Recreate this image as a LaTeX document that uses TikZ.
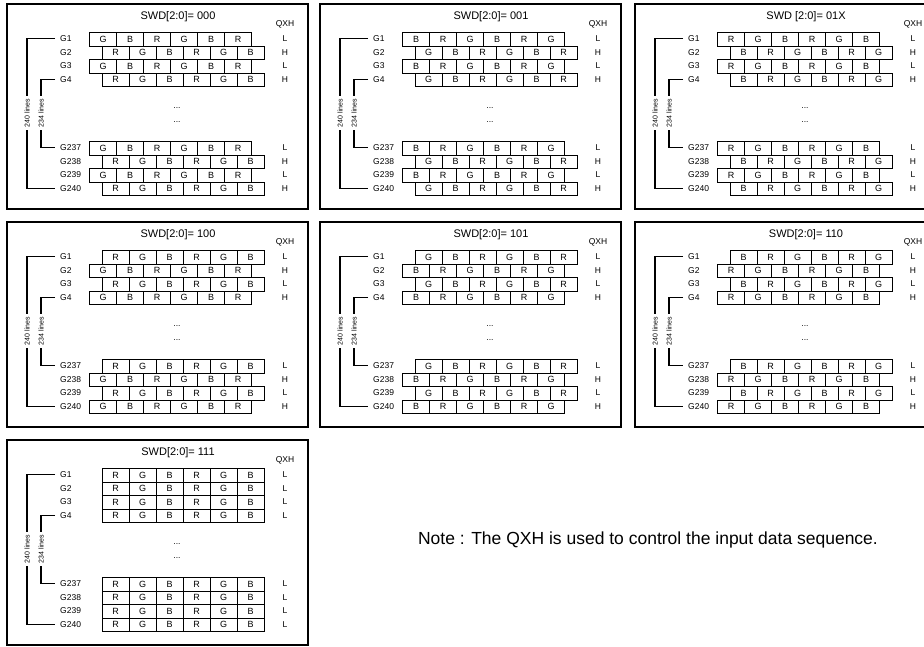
\documentclass[tikz,border=0pt]{standalone}
\usepackage{fontspec}
\setmainfont{Liberation Sans}
\usetikzlibrary{positioning}

\tikzset{
  panel/.style={draw, line width=1.4pt},
  cell/.style={rectangle, draw, line width=1.1pt, anchor=north west, minimum width=27pt, minimum height=13.5pt, inner sep=0pt, font=\fontsize{9}{9}\selectfont},
  glabel/.style={anchor=west, inner sep=0pt, font=\fontsize{8.5}{8.5}\selectfont},
  lvl/.style={inner sep=0pt, font=\fontsize{8.5}{8.5}\selectfont},
  swd/.style={font=\fontsize{11}{11}\selectfont},
  vlabel/.style={rotate=90, inner sep=3pt, font=\fontsize{7}{7}\selectfont},
  bracket/.style={line width=1.2pt},
}

% one SWD panel: x, y, title, odd shift, even shift, odd colours, even colours, even QXH
\newcommand{\swdpanel}[8]{%
  \begin{scope}[shift={(#1,#2)}]
    \draw[panel] (0,0) rectangle (301,205);
    \node[swd] (title) at (171,13) {#3};
    \node[lvl] (qxh) at (278,20) {QXH};
    \foreach \lab [count=\k from 0] in {G1,G2,G3,G4,G237,G238,G239,G240}{
      \pgfmathsetmacro\ry{\k<4 ? 28+\k*13.5 : 137+(\k-4)*13.5}
      \ifodd\k \def\sh{#5}\def\cols{#7}\def\lv{#8}\else\def\sh{#4}\def\cols{#6}\def\lv{L}\fi
      \foreach \c [count=\j from 0] in \cols
        \node[cell] at (82+\sh+\j*27,\ry) {\c};
      \node[glabel] (g\k) at (53,\ry+6.75) {\lab};
      \node[lvl] at (278,\ry+6.75) {\lv};
    }
    \node[lvl] (dotsa) at (170,104) {...};
    \node[lvl] (dotsb) at (170,118) {...};
    % line brackets
    \node[vlabel] (outer) at (20,109) {240 lines};
    \node[vlabel] (inner) at (34,109) {234 lines};
    \draw[bracket] ([xshift=-5pt]g0.west) -| (outer.east);
    \draw[bracket] (outer.west) |- ([xshift=-5pt]g7.west);
    \draw[bracket] ([xshift=-5pt]g3.west) -| (inner.east);
    \draw[bracket] (inner.west) |- ([xshift=-5pt]g4.west);
  \end{scope}}

\begin{document}
\begin{tikzpicture}[x=1pt,y=-1pt]
  \path[use as bounding box, clip] (0,0) rectangle (924,646);

  % first row
  \swdpanel{7}{4}{SWD[2:0]= 000}{0}{12.5}{G,B,R,G,B,R}{R,G,B,R,G,B}{H}
  \swdpanel{320}{4}{SWD[2:0]= 001}{0}{12.5}{B,R,G,B,R,G}{G,B,R,G,B,R}{H}
  \swdpanel{635}{4}{SWD [2:0]= 01X}{0}{12.5}{R,G,B,R,G,B}{B,R,G,B,R,G}{H}

  % second row
  \swdpanel{7}{222}{SWD[2:0]= 100}{12.5}{0}{R,G,B,R,G,B}{G,B,R,G,B,R}{H}
  \swdpanel{320}{222}{SWD[2:0]= 101}{12.5}{0}{G,B,R,G,B,R}{B,R,G,B,R,G}{H}
  \swdpanel{635}{222}{SWD[2:0]= 110}{12.5}{0}{B,R,G,B,R,G}{R,G,B,R,G,B}{H}

  % third row
  \swdpanel{7}{440}{SWD[2:0]= 111}{12.5}{12.5}{R,G,B,R,G,B}{R,G,B,R,G,B}{L}

  \node[font=\fontsize{17.5}{17.5}\selectfont] (note) at (648,540) {Note : The QXH is used to control the input data sequence.};
\end{tikzpicture}
\end{document}
